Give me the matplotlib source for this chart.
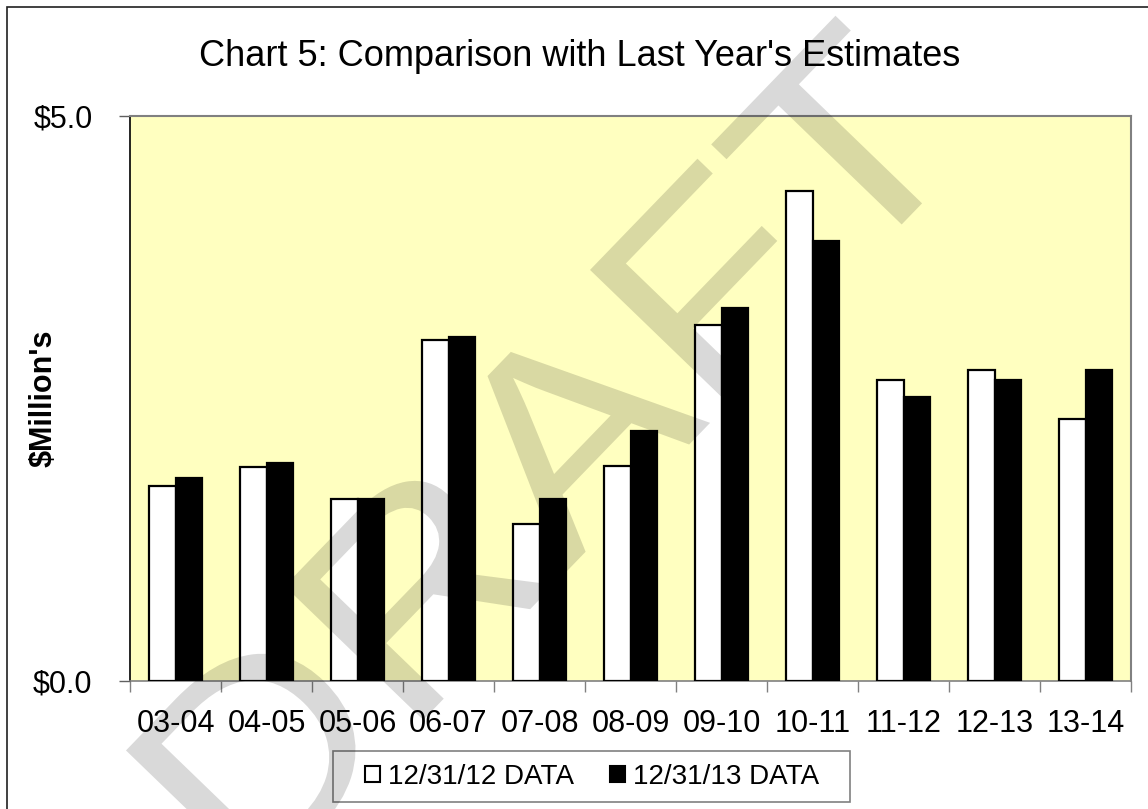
import numpy as np
import matplotlib
matplotlib.use('Agg')
import matplotlib.pyplot as plt
from matplotlib.patches import Patch, Rectangle, PathPatch
from matplotlib.textpath import TextPath
from matplotlib.font_manager import FontProperties
from matplotlib.transforms import Affine2D

plt.rcParams['font.family'] = ['Liberation Sans', 'DejaVu Sans']

# data ($ millions)
years = ['03-04', '04-05', '05-06', '06-07', '07-08', '08-09',
         '09-10', '10-11', '11-12', '12-13', '13-14']
data_1231_12 = [1.73, 1.89, 1.61, 3.02, 1.39, 1.90, 3.15, 4.34, 2.66, 2.75, 2.32]
data_1231_13 = [1.80, 1.93, 1.61, 3.04, 1.61, 2.21, 3.30, 3.89, 2.51, 2.66, 2.75]
labels = ['12/31/12 DATA', '12/31/13 DATA']

W, H = 1148, 809
fig = plt.figure(figsize=(W / 100, H / 100), dpi=100)
ax = fig.add_axes([130 / W, 1 - 681 / H, 1001 / W, 565 / H])
ax.set_facecolor('#FFFFC0')

x = np.arange(len(years))
bw = 0.29
ax.bar(x - bw / 2, data_1231_12, bw, color='white', edgecolor='black', linewidth=1.6, zorder=3)
ax.bar(x + bw / 2, data_1231_13, bw, color='black', edgecolor='black', linewidth=1.6, zorder=3)

ax.set_xlim(-0.5, len(years) - 0.5)
ax.set_ylim(0, 5)
ax.set_xticks(x)
ax.set_xticklabels(years, fontsize=22)
ax.set_xticks(np.arange(-0.5, len(years), 1), minor=True)
ax.tick_params(axis='x', which='major', length=0, pad=20)
ax.tick_params(axis='x', which='minor', length=8, color='#808080', width=1)
ax.set_yticks([0, 5])
ax.set_yticklabels(['$0.0', '$5.0'], fontsize=22)
ax.tick_params(axis='y', length=8, color='#606060', width=1, pad=19)
ax.set_ylabel("$Million's", fontsize=22, fontweight='bold')
ax.yaxis.set_label_coords(-0.071, 0.5)

for s in ['top', 'right']:
    ax.spines[s].set_color('#808080')
    ax.spines[s].set_linewidth(1.5)
ax.spines['left'].set_color('black')
ax.spines['bottom'].set_color('#808080')
ax.spines['left'].set_linewidth(1.2)
ax.spines['bottom'].set_linewidth(1.2)

fig.text(580 / W, 1 - 56 / H, "Chart 5: Comparison with Last Year's Estimates",
         ha='center', va='center', fontsize=26)

# legend: entries plus a separate frame box
handles = [Patch(facecolor='white', edgecolor='black', linewidth=1.5),
           Patch(facecolor='black', edgecolor='black', linewidth=1.5)]
fig.legend(handles, labels, loc='center', bbox_to_anchor=(592 / W, 1 - 777 / H),
           ncol=2, fontsize=20, frameon=False,
           handlelength=0.54, handleheight=0.54, handletextpad=0.3, columnspacing=1.3)
fig.patches.append(Rectangle((333 / W, 1 - 802 / H), 517 / W, 51 / H, transform=fig.transFigure,
                             fill=False, edgecolor='#808080', linewidth=1.2))

# outer chart border (runs off the right and bottom edge)
fig.patches.append(Rectangle((7 / W, -0.05), 2, 1 - 6.5 / H + 0.05, transform=fig.transFigure,
                             fill=False, edgecolor='#202020', linewidth=1.2))

# DRAFT watermark
wax = fig.add_axes([0, 0, 1, 1], zorder=10)
wax.set_xlim(0, W)
wax.set_ylim(0, H)
wax.axis('off')
wax.patch.set_alpha(0)
tp = TextPath((0, 0), 'DRAFT', size=1, prop=FontProperties(family='Liberation Sans'))
ext = tp.get_extents()
cx0, cy0 = (ext.x0 + ext.x1) / 2, (ext.y0 + ext.y1) / 2
S, SX, ANG = 280, 1.13, 46
tr = Affine2D().translate(-cx0, -cy0).scale(S * SX, S).rotate_deg(ANG).translate(550, H - 450)
wax.add_patch(PathPatch(tp, transform=tr + wax.transData, facecolor='black', alpha=0.15, lw=0))

fig.savefig('out.png', dpi=100)
